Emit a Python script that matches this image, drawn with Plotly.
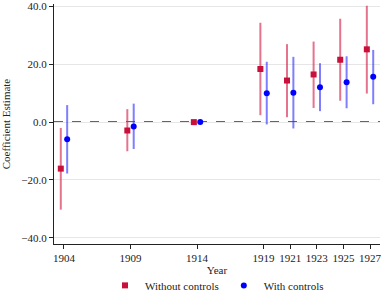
import plotly.graph_objects as go

years = [1904, 1909, 1914, 1919, 1921, 1923, 1925, 1927]
tick_labels = ["1904", "1909", "1914", "1919", "1921", "1923", "1925", "1927"]

# Without controls
wo_est = [-16.1, -2.9, 0.0, 18.4, 14.4, 16.5, 21.6, 25.2]
wo_hi = [-2.0, 4.5, 0.0, 34.4, 27.0, 27.9, 35.8, 40.3]
wo_lo = [-30.3, -10.1, 0.0, 2.4, 1.7, 4.9, 7.4, 9.9]

# With controls
wc_est = [-5.9, -1.5, 0.0, 10.0, 10.2, 12.1, 13.8, 15.7]
wc_hi = [5.9, 6.4, 0.0, 20.9, 22.6, 20.4, 22.8, 25.0]
wc_lo = [-17.8, -9.3, 0.0, -0.8, -2.2, 3.8, 4.8, 6.2]

offset = 0.24
font = "Liberation Serif, DejaVu Serif, serif"

fig = go.Figure()
fig.add_trace(go.Scatter(
    x=[y - offset for y in years], y=wo_est, mode="markers",
    name="Without controls",
    marker=dict(symbol="square", size=6, color="#c8103a"),
    error_y=dict(type="data", symmetric=False,
                 array=[h - e for h, e in zip(wo_hi, wo_est)],
                 arrayminus=[e - l for e, l in zip(wo_est, wo_lo)],
                 width=0, thickness=2, color="rgba(214,40,80,0.65)"),
))
fig.add_trace(go.Scatter(
    x=[y + offset for y in years], y=wc_est, mode="markers",
    name="With controls",
    marker=dict(symbol="circle", size=6, color="#0000ff"),
    error_y=dict(type="data", symmetric=False,
                 array=[h - e for h, e in zip(wc_hi, wc_est)],
                 arrayminus=[e - l for e, l in zip(wc_est, wc_lo)],
                 width=0, thickness=2, color="rgba(40,40,255,0.6)"),
))

fig.add_shape(type="line", xref="paper", x0=0, x1=1, yref="y", y0=0, y1=0,
              line=dict(color="#333333", width=1.5, dash="dash"), layer="below")

fig.update_layout(
    width=390, height=293,
    margin=dict(l=54, r=10, t=4, b=49, autoexpand=False),
    paper_bgcolor="white", plot_bgcolor="white",
    font=dict(family=font, size=11, color="#222222"),
    showlegend=True,
    legend=dict(orientation="h", x=0.5, xanchor="center", y=-0.112, yanchor="top",
                font=dict(family=font, size=11), itemwidth=30,
                tracegroupgap=0),
    xaxis=dict(range=[1903.25, 1927.75], tickvals=years, ticktext=tick_labels,
               automargin=False,
               showgrid=False, zeroline=False, showline=True, linecolor="#222222",
               linewidth=1, ticks="outside", ticklen=4, tickcolor="#222222",
               title=dict(text="Year", standoff=0, font=dict(size=11))),
    yaxis=dict(range=[-42.2, 40.9], tickvals=[-40, -20, 0, 20, 40],
               automargin=False,
               tickformat=".1f", showgrid=True, gridcolor="#e6e6e6", gridwidth=1,
               zeroline=False, showline=True, linecolor="#222222", linewidth=1,
               ticks="outside", ticklen=4, tickcolor="#222222",
               title=dict(text="Coefficient Estimate", standoff=10, font=dict(size=11))),
)

fig.write_html("out.html", config={"displayModeBar": False},
               post_script="document.body.style.margin='0';document.body.style.overflow='hidden';")
